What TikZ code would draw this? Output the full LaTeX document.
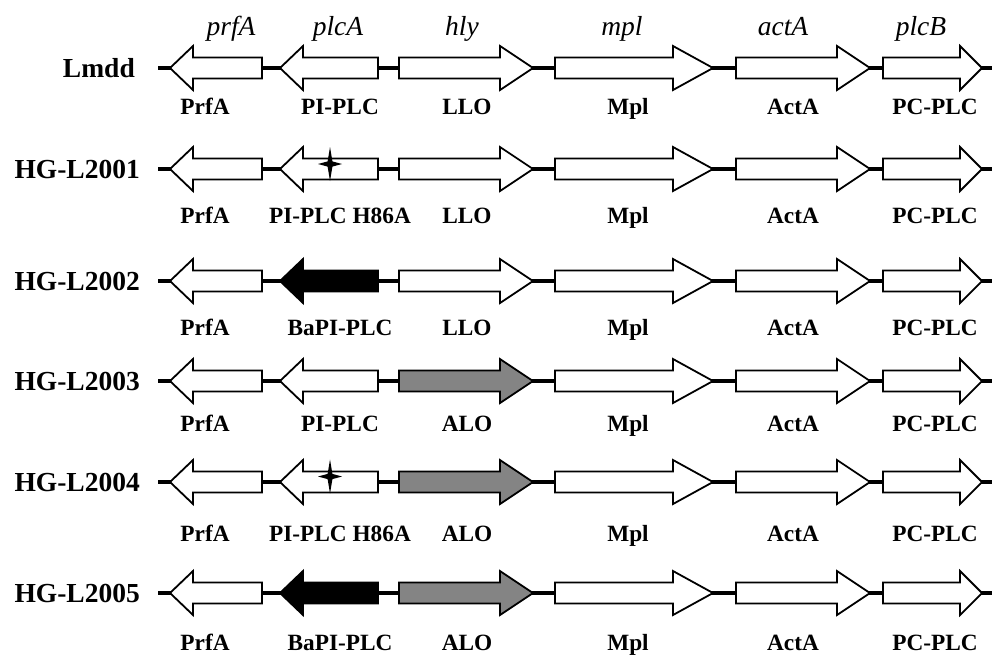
\documentclass[tikz,border=0pt]{standalone}
\usepackage{fontspec}
\setmainfont{Liberation Serif}
\definecolor{alogray}{RGB}{132,132,132}

\tikzset{
  strain/.style={font=\fontsize{27.5}{30}\selectfont\bfseries, anchor=base east, inner sep=0pt},
  genename/.style={font=\fontsize{27.5}{30}\selectfont\itshape, anchor=base, inner sep=0pt},
  protein/.style={font=\fontsize{23.3}{26}\selectfont\bfseries, anchor=base, inner sep=0pt},
  backbone/.style={line width=4.5pt, line cap=butt},
  orf/.style={draw=black, line width=1.8pt, line join=miter, fill=white},
  pointmut/.style={fill=black},
}

% ORF arrow: #1 extra style, #2 tail x, #3 head base x, #4 tip x, #5 row y
\newcommand\orfshape[5]{%
  \path[orf,#1] (#2,#5-10.5) -- (#3,#5-10.5) -- (#3,#5-22) -- (#4,#5)
    -- (#3,#5+22) -- (#3,#5+10.5) -- (#2,#5+10.5) -- cycle;}

% four-pointed star marking the H86A substitution
\newcommand\mutstar[2]{%
  \fill[pointmut,shift={(#1,#2)}] (0,-17) -- (2.4,-2.6) -- (12,0) -- (2.4,2.6)
    -- (0,17) -- (-2.4,2.6) -- (-12,0) -- (-2.4,-2.6) -- cycle;}

\begin{document}
\begin{tikzpicture}[x=1pt,y=-1pt]
\useasboundingbox (0,0) rectangle (992,654);

% gene names above the first operon
\node[genename] (gprfA) at (231,35) {prfA};
\node[genename] (gplcA) at (338,35) {plcA};
\node[genename] (ghly)  at (462,35) {hly};
\node[genename] (gmpl)  at (622,35) {mpl};
\node[genename] (gactA) at (783,35) {actA};
\node[genename] (gplcB) at (921,35) {plcB};

\foreach \row/\yy/\lb/\sx/\strain/\plcfill/\hlyfill/\plclab/\hlylab in {
  1/68/114/135/Lmdd/white/white/PI-PLC/LLO,
  2/169/223/140/HG-L2001/white/white/PI-PLC H86A/LLO,
  3/281/335/140/HG-L2002/black/white/BaPI-PLC/LLO,
  4/381/431/140/HG-L2003/white/alogray/PI-PLC/ALO,
  5/482/541/140/HG-L2004/white/alogray/PI-PLC H86A/ALO,
  6/593/650/140/HG-L2005/black/alogray/BaPI-PLC/ALO}
{
  \node[strain] (s\row) at (\sx,\yy+9.5) {\strain};
  \coordinate (bl\row) at (158,\yy);
  \coordinate (br\row) at (992,\yy);
  \draw[backbone] (bl\row) -- (br\row);
  \orfshape{}{262}{193}{170}{\yy}
  \orfshape{fill=\plcfill}{378}{303}{280}{\yy}
  \orfshape{fill=\hlyfill}{399}{500}{533}{\yy}
  \orfshape{}{555}{673}{713}{\yy}
  \orfshape{}{736}{837}{870}{\yy}
  \orfshape{}{883}{960}{982}{\yy}
  \node[protein] (pa\row) at (205,\lb) {PrfA};
  \node[protein] (pb\row) at (340,\lb) {\plclab};
  \node[protein] (pc\row) at (467,\lb) {\hlylab};
  \node[protein] (pd\row) at (628,\lb) {Mpl};
  \node[protein] (pe\row) at (793,\lb) {ActA};
  \node[protein] (pf\row) at (935,\lb) {PC-PLC};
}

\mutstar{330}{164}
\mutstar{330}{476.5}
\end{tikzpicture}
\end{document}
